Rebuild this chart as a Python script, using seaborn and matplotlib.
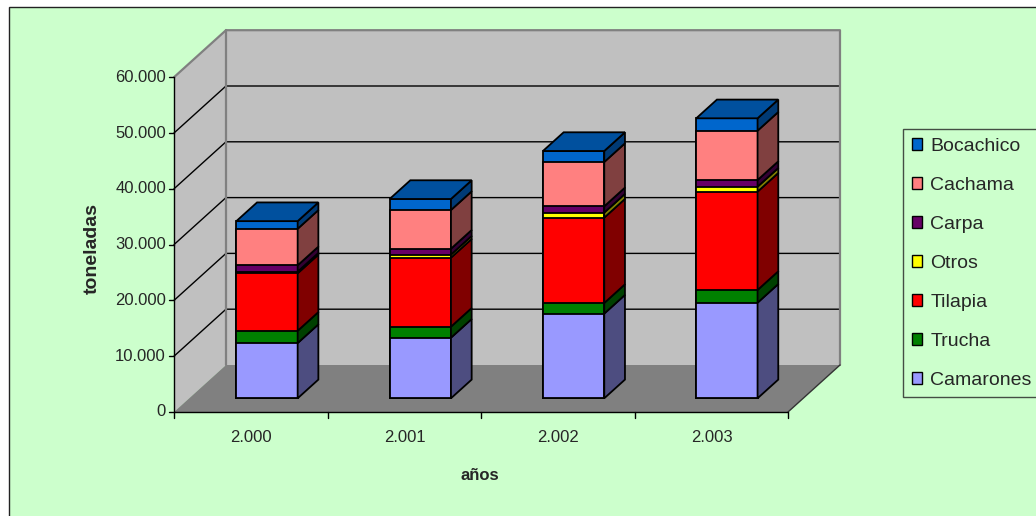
import numpy as np
import pandas as pd
import seaborn as sns
import matplotlib.pyplot as plt
from matplotlib.patches import Patch, Rectangle

# producción acuícola por especie (toneladas)
years = ['2.000', '2.001', '2.002', '2.003']
camarones = [9900, 10860, 15180, 17130]
trucha = [2200, 1970, 1900, 2280]
tilapia = [10300, 12370, 15300, 17620]
otros = [300, 540, 900, 890]
carpa = [1130, 1070, 1130, 1200]
cachama = [6550, 6930, 7940, 8840]
bocachico = [1370, 1980, 1970, 2220]

species = ['Camarones', 'Trucha', 'Tilapia', 'Otros', 'Carpa', 'Cachama', 'Bocachico']
values = [camarones, trucha, tilapia, otros, carpa, cachama, bocachico]
front_colors = ['#9999FF', '#008000', '#FF0000', '#FFFF00', '#660066', '#FF8080', '#0066CC']
side_colors = ['#4D4D80', '#004000', '#800000', '#808000', '#330033', '#804040', '#003A75']
top_color = '#00509E'

y_ticks = [0, 10000, 20000, 30000, 40000, 50000, 60000]
y_tick_labels = ['0', '10.000', '20.000', '30.000', '40.000', '50.000', '60.000']

df = pd.DataFrame(dict(zip(species, values)), index=years)
cum = df.cumsum(axis=1)

sns.set_style('white')
plt.rcParams['font.family'] = ['Liberation Sans', 'DejaVu Sans']

W, H = 1036, 516
fig = plt.figure(figsize=(W / 100, H / 100), dpi=100, facecolor='white')
fig.add_artist(Rectangle((9 / W, -0.1), 1.2, 1.1 - 7 / H, transform=fig.transFigure,
                         facecolor='#CCFFCC', edgecolor='#222222', lw=1, zorder=0))

ax = fig.add_axes([0, 0, 1, 1])
ax.set_facecolor('none')

# pixel -> data (plano frontal de las barras)
X0, SX = 267.0, 153.3
Y0, SY = 398.3, 55.8 / 10000


def d(px, py):
    return (px - X0) / SX, (Y0 - py) / SY


def box(x_px, v, depth):
    return d(x_px + 52 * depth, 412 - 47 * depth - v * SY)


def poly(pts, **kw):
    xs, ys = zip(*pts)
    ax.fill(xs, ys, **kw)


def line(pts, **kw):
    xs, ys = zip(*pts)
    ax.plot(xs, ys, **kw)


top = y_ticks[-1]
# paredes y piso
poly([box(174, 0, 1), box(788, 0, 1), box(788, top, 1), box(174, top, 1)],
     facecolor='#C0C0C0', edgecolor='none', zorder=1)
poly([box(174, 0, 0), box(174, 0, 1), box(174, top, 1), box(174, top, 0)],
     facecolor='#C0C0C0', edgecolor='none', zorder=1)
poly([box(174, 0, 0), box(788, 0, 0), box(788, 0, 1), box(174, 0, 1)],
     facecolor='#808080', edgecolor='none', zorder=1)
for v in y_ticks[1:-1]:
    line([box(174, v, 0), box(174, v, 1), box(788, v, 1)], color='black', lw=1, zorder=1.5)
line([box(174, top, 0), box(174, top, 1), box(788, top, 1), box(788, 0, 1)],
     color='#808080', lw=1.6, zorder=1.5)
line([box(174, 0, 1), box(174, top, 1)], color='#808080', lw=1.6, zorder=1.5)
line([box(788, 0, 0), box(788, 0, 1)], color='#333333', lw=1, zorder=1.5)

# ejes
line([box(174, 0, 0), box(174, top, 0)], color='black', lw=1, zorder=2)
line([box(174, 0, 0), box(788, 0, 0)], color='black', lw=1, zorder=2)
for v, lab in zip(y_ticks, y_tick_labels):
    x1, y1 = box(174, v, 0)
    line([(d(169, 0)[0], y1), (x1, y1)], color='black', lw=1, zorder=2)
    ax.text(d(166, 0)[0], y1, lab, ha='right', va='center', fontsize=12)
for k in range(len(years) + 1):
    xt = 174 + 153.5 * k
    line([d(xt, 412), d(xt, 418)], color='black', lw=1, zorder=2)
for k, yr in enumerate(years):
    ax.text(*d(251 + 153.5 * k, 437), yr, ha='center', va='center', fontsize=12)
ax.text(*d(480, 476), 'años', ha='center', va='center', fontsize=12, fontweight='bold')
ax.text(*d(92, 248), 'toneladas', ha='center', va='center', fontsize=14,
        fontweight='bold', rotation=90)

# barras apiladas, caras frontales
bw = 0.40
for name, fc in reversed(list(zip(species, front_colors))):
    sns.barplot(x=years, y=cum[name].values, color=fc, saturation=1, width=bw,
                edgecolor='black', linewidth=1.3, errorbar=None, ax=ax, zorder=3)

# caras laterales y superiores
ddx, ddy = 20.7 / SX, 18.7 / SY
for i, yr in enumerate(years):
    xr = i + bw / 2
    bottom = 0
    for name, sc in zip(species, side_colors):
        t = cum.loc[yr, name]
        poly([(xr, bottom), (xr + ddx, bottom + ddy), (xr + ddx, t + ddy), (xr, t)],
             facecolor=sc, edgecolor='black', lw=1.3, zorder=3)
        bottom = t
    poly([(i - bw / 2, bottom), (xr, bottom), (xr + ddx, bottom + ddy),
          (i - bw / 2 + ddx, bottom + ddy)],
         facecolor=top_color, edgecolor='black', lw=1.3, zorder=3)

ax.set_xlim(d(0, 0)[0], d(W, 0)[0])
ax.set_ylim(d(0, H)[1], d(0, 0)[1])
ax.axis('off')

handles = [Patch(facecolor=c, edgecolor='black', lw=1) for c in front_colors]
leg = fig.legend(handles[::-1], species[::-1], loc='upper left',
                 bbox_to_anchor=(903 / W, 1 - 129 / H), borderaxespad=0,
                 fontsize=14, frameon=True, fancybox=False, handlelength=0.55,
                 handleheight=0.55, handletextpad=0.4, labelspacing=1.13,
                 borderpad=0.45)
leg.get_frame().set_facecolor('#CCFFCC')
leg.get_frame().set_edgecolor('#222222')
leg.get_frame().set_linewidth(1)

fig.savefig('out.png', dpi=100, facecolor=fig.get_facecolor())
